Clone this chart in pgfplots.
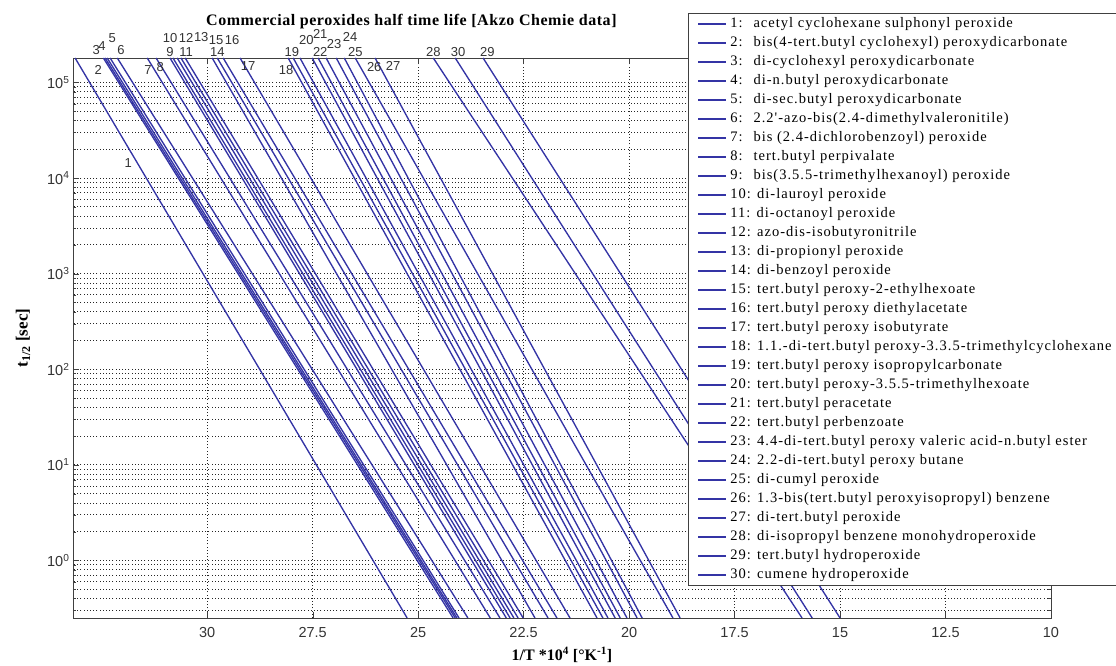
\documentclass[border=0pt]{standalone}
\usepackage{pgfplots}
\pgfplotsset{compat=1.18}
\usepackage{fontspec}
\setmainfont{Liberation Serif}
\setsansfont{Liberation Sans}
\newfontfamily\legfont[LetterSpace=7]{Liberation Serif}
\newfontfamily\titfont[LetterSpace=3.5]{Liberation Serif}
\definecolor{lc}{RGB}{52,52,165}
\pgfplotsset{peroxline/.style={lc, solid, line width=1.35pt, mark=none}}
\begin{document}
\begin{tikzpicture}[x=1pt,y=1pt]
\begin{axis}[
  at={(73pt,48pt)}, anchor=south west,
  width=978pt, height=560pt, scale only axis,
  x dir=reverse, xmin=10, xmax=33.18,
  ymode=log, ymin=0.25, ymax=1.8e5,
  xtick={10,12.5,15,17.5,20,22.5,25,27.5,30},
  xticklabels={10,12.5,15,17.5,20,22.5,25,27.5,30},
  ytick={1,10,100,1000,10000,100000},
  yticklabels={10\textsuperscript{0},10\textsuperscript{1},10\textsuperscript{2},10\textsuperscript{3},10\textsuperscript{4},10\textsuperscript{5}},
  minor ytick={0.3,0.4,0.5,0.6,0.7,0.8,0.9,2,3,4,5,6,7,8,9,20,30,40,50,60,70,80,90,200,300,400,500,600,700,800,900,2000,3000,4000,5000,6000,7000,8000,9000,20000,30000,40000,50000,60000,70000,80000,90000},
  grid=both,
  major grid style={black!85, dash pattern=on 1pt off 2.2pt, line width=0.7pt},
  minor grid style={black!85, dash pattern=on 1pt off 2.2pt, line width=0.7pt},
  tick align=inside, major tick length=6pt, minor tick length=3pt,
  axis line style={black!75, line width=0.9pt},
  tick style={black!75},
  ticklabel style={font=\sffamily\fontsize{14.5}{14.5}\selectfont, text=black!80},
  xticklabel style={yshift=-6pt},
  title={Commercial peroxides half time life [Akzo Chemie data]},
  title style={at={(axis description cs:0.346,1.054)}, anchor=center, font=\titfont\bfseries\fontsize{16}{16}\selectfont},
  xlabel={1/T *10\textsuperscript{4} [°K\textsuperscript{-1}]},
  xlabel style={at={(axis description cs:0.5,-0.066)}, anchor=center, font=\bfseries\fontsize{16}{16}\selectfont},
  ylabel={t\textsubscript{1/2} [sec]},
  ylabel style={at={(axis description cs:-0.051,0.5)}, anchor=center, font=\bfseries\fontsize{17}{17}\selectfont},
  clip mode=individual,
  cycle list={peroxline},
  legend style={at={(axis description cs:0.629,1.080)}, anchor=north west,
    draw=black!75, fill=white, line width=0.8pt, inner xsep=9pt, inner ysep=1pt,
    font=\legfont\fontsize{14.5}{15}\selectfont,
    nodes={text height=11pt, text depth=4pt, inner ysep=2pt, inner xsep=3.5pt},
    row sep=0pt},
  legend cell align=left,
  legend image code/.code={\draw[#1, line width=1.35pt] (0pt,0pt) -- (28pt,0pt);},
]
\addplot coordinates {(33.13,1.8e5) (25.26,0.25)};
\addlegendentry{1: \ acetyl cyclohexane sulphonyl peroxide}
\addplot coordinates {(32.46,1.8e5) (24.17,0.25)};
\addlegendentry{2: \ bis(4-tert.butyl cyclohexyl) peroxydicarbonate}
\addplot coordinates {(32.42,1.8e5) (24.12,0.25)};
\addlegendentry{3: \ di-cyclohexyl peroxydicarbonate}
\addplot coordinates {(32.37,1.8e5) (24.08,0.25)};
\addlegendentry{4: \ di-n.butyl peroxydicarbonate}
\addplot coordinates {(32.30,1.8e5) (24.03,0.25)};
\addlegendentry{5: \ di-sec.butyl peroxydicarbonate}
\addplot coordinates {(32.13,1.8e5) (23.82,0.25)};
\addlegendentry{6: \ 2.2'-azo-bis(2.4-dimethylvaleronitile)}
\addplot coordinates {(31.42,1.8e5) (23.29,0.25)};
\addlegendentry{7: \ bis (2.4-dichlorobenzoyl) peroxide}
\addplot coordinates {(31.21,1.8e5) (23.06,0.25)};
\addlegendentry{8: \ tert.butyl perpivalate}
\addplot coordinates {(30.88,1.8e5) (22.91,0.25)};
\addlegendentry{9: \ bis(3.5.5-trimethylhexanoyl) peroxide}
\addplot coordinates {(30.81,1.8e5) (22.82,0.25)};
\addlegendentry{10: di-lauroyl peroxide}
\addplot coordinates {(30.71,1.8e5) (22.73,0.25)};
\addlegendentry{11: di-octanoyl peroxide}
\addplot coordinates {(30.62,1.8e5) (22.63,0.25)};
\addlegendentry{12: azo-dis-isobutyronitrile}
\addplot coordinates {(30.52,1.8e5) (22.51,0.25)};
\addlegendentry{13: di-propionyl peroxide}
\addplot coordinates {(29.88,1.8e5) (22.23,0.25)};
\addlegendentry{14: di-benzoyl peroxide}
\addplot coordinates {(29.76,1.8e5) (21.92,0.25)};
\addlegendentry{15: tert.butyl peroxy-2-ethylhexoate}
\addplot coordinates {(29.62,1.8e5) (21.71,0.25)};
\addlegendentry{16: tert.butyl peroxy diethylacetate}
\addplot coordinates {(29.22,1.8e5) (21.40,0.25)};
\addlegendentry{17: tert.butyl peroxy isobutyrate}
\addplot coordinates {(28.08,1.8e5) (20.76,0.25)};
\addlegendentry{18: 1.1.-di-tert.butyl peroxy-3.3.5-trimethylcyclohexane}
\addplot coordinates {(27.96,1.8e5) (20.62,0.25)};
\addlegendentry{19: tert.butyl peroxy isopropylcarbonate}
\addplot coordinates {(27.80,1.8e5) (20.50,0.25)};
\addlegendentry{20: tert.butyl peroxy-3.5.5-trimethylhexoate}
\addplot coordinates {(27.51,1.8e5) (20.33,0.25)};
\addlegendentry{21: tert.butyl peracetate}
\addplot coordinates {(27.37,1.8e5) (20.21,0.25)};
\addlegendentry{22: tert.butyl perbenzoate}
\addplot coordinates {(27.18,1.8e5) (20.05,0.25)};
\addlegendentry{23: 4.4-di-tert.butyl peroxy valeric acid-n.butyl ester}
\addplot coordinates {(26.94,1.8e5) (19.81,0.25)};
\addlegendentry{24: 2.2-di-tert.butyl peroxy butane}
\addplot coordinates {(26.75,1.8e5) (19.69,0.25)};
\addlegendentry{25: di-cumyl peroxide}
\addplot coordinates {(26.49,1.8e5) (18.96,0.25)};
\addlegendentry{26: 1.3-bis(tert.butyl peroxyisopropyl) benzene}
\addplot coordinates {(26.02,1.8e5) (18.79,0.25)};
\addlegendentry{27: di-tert.butyl peroxide}
\addplot coordinates {(24.64,1.8e5) (15.90,0.25)};
\addlegendentry{28: di-isopropyl benzene monohydroperoxide}
\addplot coordinates {(23.46,1.8e5) (15.00,0.25)};
\addlegendentry{29: tert.butyl hydroperoxide}
\addplot coordinates {(24.12,1.8e5) (15.66,0.25)};
\addlegendentry{30: cumene hydroperoxide}
\begin{scope}[every node/.style={font=\sffamily\fontsize{13}{13}\selectfont, text=black!80, inner sep=0pt}]
\node at (axis cs:31.87,1.44e4) {1};
\node at (axis cs:32.58,1.35e5) {2};
\node at (axis cs:32.63,2.18e5) {3};
\node at (axis cs:32.49,2.4e5) {4};
\node at (axis cs:32.25,2.9e5) {5};
\node at (axis cs:32.04,2.18e5) {6};
\node at (axis cs:31.40,1.35e5) {7};
\node at (axis cs:31.11,1.45e5) {8};
\node at (axis cs:30.88,2.08e5) {9};
\node at (axis cs:30.88,2.9e5) {10};
\node at (axis cs:30.50,2.08e5) {11};
\node at (axis cs:30.50,2.9e5) {12};
\node at (axis cs:30.14,3.0e5) {13};
\node at (axis cs:29.76,2.08e5) {14};
\node at (axis cs:29.79,2.8e5) {15};
\node at (axis cs:29.41,2.8e5) {16};
\node at (axis cs:29.03,1.48e5) {17};
\node at (axis cs:28.13,1.35e5) {18};
\node at (axis cs:27.99,2.08e5) {19};
\node at (axis cs:27.65,2.8e5) {20};
\node at (axis cs:27.32,3.2e5) {21};
\node at (axis cs:27.32,2.08e5) {22};
\node at (axis cs:26.99,2.5e5) {23};
\node at (axis cs:26.61,3.0e5) {24};
\node at (axis cs:26.49,2.08e5) {25};
\node at (axis cs:26.04,1.45e5) {26};
\node at (axis cs:25.59,1.48e5) {27};
\node at (axis cs:24.64,2.08e5) {28};
\node at (axis cs:23.36,2.08e5) {29};
\node at (axis cs:24.05,2.08e5) {30};
\end{scope}
\end{axis}
\pgfresetboundingbox
\path[use as bounding box] (0pt,0pt) rectangle (1116pt,666pt);
\end{tikzpicture}
\end{document}
